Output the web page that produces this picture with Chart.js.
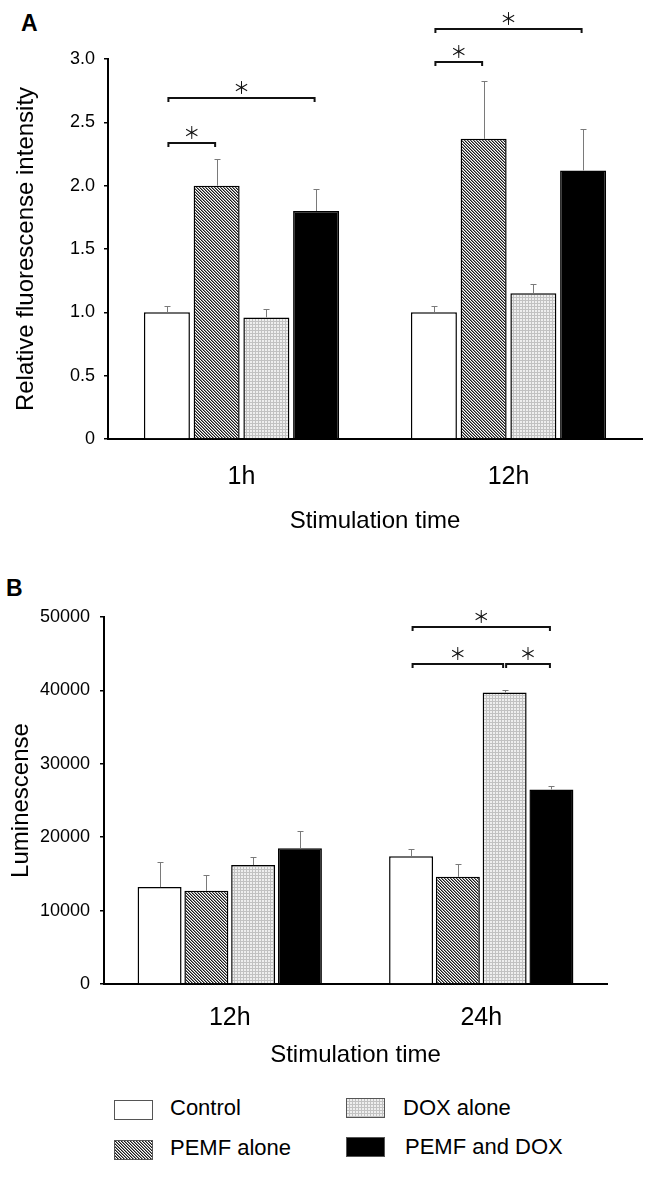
<!DOCTYPE html>
<html>
<head>
<meta charset="utf-8">
<script src="https://cdn.jsdelivr.net/npm/chart.js@4.4.1/dist/chart.umd.min.js"></script>
<style>
  body { margin: 0; background: #fff; font-family: 'Liberation Sans', Arial, sans-serif; }
  #page { position: relative; width: 646px; height: 1182px; overflow: hidden; }
  canvas.chart { position: absolute; left: 0; }
  .panel { position: absolute; font-weight: bold; font-size: 23px; line-height: 23px; }
  .legend-text { position: absolute; font-size: 22px; line-height: 26px; white-space: nowrap; }
  .swatch { position: absolute; }
</style>
</head>
<body>
<div id="page">
  <div class="panel" style="left:21px;top:12px">A</div>
  <canvas id="chartA" class="chart" width="646" height="545" style="top:0"></canvas>
  <div class="panel" style="left:6px;top:577px">B</div>
  <canvas id="chartB" class="chart" width="646" height="535" style="top:545px"></canvas>
</div>
<script>
const seriesNames = ['Control', 'PEMF alone', 'DOX alone', 'PEMF and DOX'];
const seriesFills = ['white', 'hatch', 'dots', 'black'];

// panel A - relative fluorescence
const timesA = ['1h', '12h'];
const controlA = [1.00, 1.00];
const pemfA = [2.00, 2.37];
const doxA = [0.96, 1.15];
const pemfDoxA = [1.80, 2.12];
const controlSdA = [0.05, 0.05];
const pemfSdA = [0.21, 0.46];
const doxSdA = [0.07, 0.07];
const pemfDoxSdA = [0.17, 0.33];
const ticksA = ['0', '0.5', '1.0', '1.5', '2.0', '2.5', '3.0'];
// [time index, from series, to series, height]
const bracketsA = [[0, 0, 1, 2.34], [0, 0, 3, 2.69], [1, 0, 1, 2.98], [1, 0, 3, 3.24]];

// panel B - luminescence
const timesB = ['12h', '24h'];
const controlB = [13200, 17400];
const pemfB = [12700, 14600];
const doxB = [16200, 39700];
const pemfDoxB = [18500, 26500];
const controlSdB = [3400, 1000];
const pemfSdB = [2150, 1750];
const doxSdB = [1100, 350];
const pemfDoxSdB = [2350, 480];
const ticksB = ['0', '10000', '20000', '30000', '40000', '50000'];
const bracketsB = [[1, 0, 3, 48600], [1, 0, 2, 43600], [1, 2, 3, 43600]];

Chart.defaults.font.family = "'Liberation Sans', Arial, sans-serif";
Chart.defaults.color = '#000';

function makeFill(kind) {
  if (kind === 'white') return '#fff';
  if (kind === 'black') return '#000';
  const c = document.createElement('canvas');
  c.width = 3; c.height = 3;
  const g = c.getContext('2d');
  if (kind === 'hatch') {
    g.fillStyle = '#fff'; g.fillRect(0, 0, 3, 3);
    for (let i = 0; i < 3; i++) {
      g.fillStyle = '#1a1a1a';
      g.fillRect(i, i, 1, 1);
      g.fillStyle = '#8a8a8a';
      g.fillRect((i + 1) % 3, i, 1, 1);
    }
  } else {
    g.fillStyle = '#efefef'; g.fillRect(0, 0, 3, 3);
    g.fillStyle = '#c2c2c2';
    g.fillRect(0, 0, 3, 1);
    g.fillRect(0, 0, 1, 3);
  }
  return g.createPattern(c, 'repeat');
}

const errorBars = {
  id: 'errorBars',
  afterDatasetsDraw(chart) {
    const ctx = chart.ctx, y = chart.scales.y;
    ctx.save();
    ctx.strokeStyle = '#7a7a7a';
    ctx.lineWidth = 1;
    chart.data.datasets.forEach((ds, i) => {
      chart.getDatasetMeta(i).data.forEach((bar, j) => {
        const top = Math.round(y.getPixelForValue(ds.data[j] + ds.sd[j])) + 0.5;
        const x = Math.round(bar.x) + 0.5;
        ctx.beginPath();
        ctx.moveTo(x, bar.y);
        ctx.lineTo(x, top);
        ctx.moveTo(x - 3, top);
        ctx.lineTo(x + 3, top);
        ctx.stroke();
      });
    });
    ctx.restore();
  }
};

const brackets = {
  id: 'brackets',
  afterDraw(chart, args, opts) {
    const ctx = chart.ctx, y = chart.scales.y;
    ctx.save();
    ctx.strokeStyle = '#111';
    ctx.fillStyle = '#111';
    ctx.lineWidth = 2;
    ctx.font = '17px "Noto Sans CJK JP"';
    ctx.textAlign = 'center';
    ctx.textBaseline = 'middle';
    opts.list.forEach(([t, a, b, v]) => {
      const x1 = chart.getDatasetMeta(a).data[t].x + 1.5;
      const x2 = chart.getDatasetMeta(b).data[t].x - 1.5;
      const yy = Math.round(y.getPixelForValue(v));
      ctx.beginPath();
      ctx.moveTo(x1, yy + 4);
      ctx.lineTo(x1, yy);
      ctx.lineTo(x2, yy);
      ctx.lineTo(x2, yy + 4);
      ctx.stroke();
      ctx.fillText('＊', (x1 + x2) / 2, yy - 10);
    });
    ctx.restore();
  }
};

function drawPanel(id, cfg) {
  const datasets = cfg.values.map((vals, i) => ({
    label: seriesNames[i],
    data: vals,
    sd: cfg.sds[i],
    backgroundColor: makeFill(seriesFills[i]),
    borderColor: '#000',
    borderWidth: 1.5,
    categoryPercentage: cfg.catPct,
    barPercentage: cfg.barPct
  }));
  new Chart(document.getElementById(id), {
    type: 'bar',
    data: { labels: cfg.labels, datasets: datasets },
    plugins: [errorBars, brackets],
    options: {
      responsive: false,
      animation: false,
      layout: { padding: cfg.padding },
      plugins: {
        legend: { display: false },
        tooltip: { enabled: false },
        brackets: { list: cfg.brackets }
      },
      scales: {
        x: {
          grid: { display: false, drawTicks: false },
          border: { display: true, color: '#000', width: 2 },
          ticks: { font: { size: 25 }, padding: cfg.xTickPad },
          title: {
            display: true, text: 'Stimulation time',
            font: { size: 24 }, padding: { top: 0, bottom: cfg.xTitlePad }
          },
          afterFit: s => { s.height = cfg.xHeight; }
        },
        y: {
          min: 0, max: cfg.max,
          ticks: {
            stepSize: cfg.step, autoSkip: false,
            font: { size: 18 }, padding: cfg.yTickPad,
            callback: (v, i) => cfg.ticks[i]
          },
          grid: { drawOnChartArea: false, drawTicks: true, tickLength: 4, color: '#000', lineWidth: 1.5 },
          border: { display: true, color: '#000', width: 2 },
          title: {
            display: true, text: cfg.yTitle,
            font: { size: 24 }, padding: { top: cfg.yTitlePad, bottom: 0 }
          },
          afterFit: s => { s.width = cfg.yWidth; }
        }
      }
    }
  });
}

drawPanel('chartA', {
  labels: timesA,
  values: [controlA, pemfA, doxA, pemfDoxA],
  sds: [controlSdA, pemfSdA, doxSdA, pemfDoxSdA],
  ticks: ticksA, max: 3, step: 0.5,
  brackets: bracketsA,
  yTitle: 'Relative fluorescense intensity',
  catPct: 0.745, barPct: 0.925,
  padding: { top: 59, right: 4, left: 0, bottom: 0 },
  xHeight: 106, xTickPad: 23, xTitlePad: 9,
  yWidth: 108, yTickPad: 9, yTitlePad: 12
});

drawPanel('chartB', {
  labels: timesB,
  values: [controlB, pemfB, doxB, pemfDoxB],
  sds: [controlSdB, pemfSdB, doxSdB, pemfDoxSdB],
  ticks: ticksB, max: 50000, step: 10000,
  brackets: bracketsB,
  yTitle: 'Luminescense',
  catPct: 0.744, barPct: 0.94,
  padding: { top: 72, right: 39, left: 0, bottom: 0 },
  xHeight: 96, xTickPad: 19, xTitlePad: 10,
  yWidth: 104, yTickPad: 10, yTitlePad: 7
});

// legend below panel B
const legendSpots = [[114, 1100, 170, 1095], [114, 1140, 170, 1135], [346, 1098, 403, 1095], [346, 1137, 405, 1134]];
const page = document.getElementById('page');
seriesNames.forEach((name, i) => {
  const [sx, sy, tx, ty] = legendSpots[i];
  const sw = document.createElement('canvas');
  sw.className = 'swatch';
  sw.width = 39; sw.height = 20;
  sw.style.left = sx + 'px';
  sw.style.top = sy + 'px';
  const g = sw.getContext('2d');
  g.fillStyle = makeFill(seriesFills[i]);
  g.fillRect(0, 0, 39, 20);
  g.strokeStyle = '#555';
  g.lineWidth = 1;
  g.strokeRect(0.5, 0.5, 38, 19);
  page.appendChild(sw);
  const label = document.createElement('div');
  label.className = 'legend-text';
  label.style.left = tx + 'px';
  label.style.top = ty + 'px';
  label.textContent = name;
  page.appendChild(label);
});
</script>
</body>
</html>
